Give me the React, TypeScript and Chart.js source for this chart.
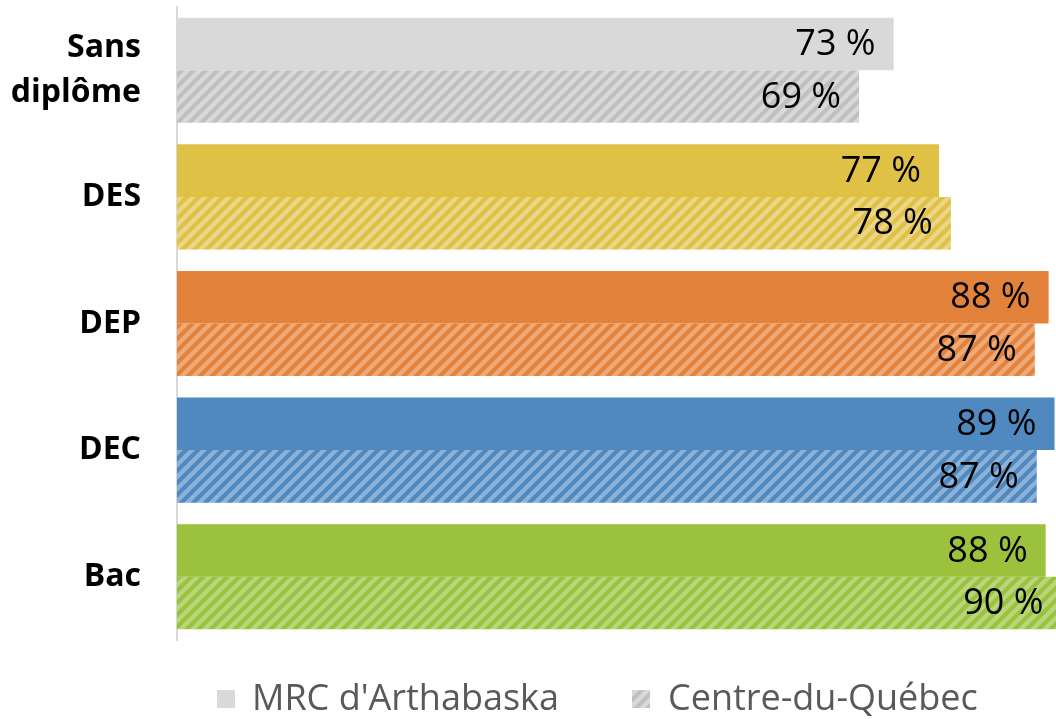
import { useEffect, useRef } from "react";
import { Chart, registerables } from "chart.js";

Chart.register(...registerables);

const categories: (string | string[])[] = [["Sans", "diplôme"], "DES", "DEP", "DEC", "Bac"];
const seriesNames = ["MRC d'Arthabaska", "Centre-du-Québec"];
const mrcValues = [72.6, 77.2, 88.3, 88.9, 88.0];
const cdqValues = [69.1, 78.4, 86.9, 87.1, 89.6];
const solidColors = ["#d9d9d9", "#dfc146", "#e3823b", "#4f89c0", "#9bc13d"];
const hatchBackColors = ["#d9d9d9", "#ebd586", "#eeaa78", "#8cb2d8", "#b8d67c"];
const hatchStripeColors = ["#c0c0c0", "#dfc146", "#e3823b", "#4f89c0", "#9bc13d"];
const xMin = 0;
const xMax = 89.05;

const FONT = "'Open Sans', 'DejaVu Sans', sans-serif";

function makeHatch(back: string, stripe: string): CanvasPattern {
  const size = 12;
  const c = document.createElement("canvas");
  c.width = size;
  c.height = size;
  const g = c.getContext("2d")!;
  g.fillStyle = back;
  g.fillRect(0, 0, size, size);
  g.strokeStyle = stripe;
  g.lineWidth = 4.2;
  g.beginPath();
  for (const o of [-size, 0, size]) {
    g.moveTo(o - 2, size + 2);
    g.lineTo(o + size + 2, -2);
  }
  g.stroke();
  return g.createPattern(c, "repeat")!;
}

export default function App() {
  const ref = useRef<HTMLCanvasElement | null>(null);

  useEffect(() => {
    if (!ref.current) return;
    const patterns = hatchBackColors.map((b, i) => makeHatch(b, hatchStripeColors[i]));
    const legendPattern = patterns[0];

    const valueLabels = {
      id: "valueLabels",
      afterDatasetsDraw(chart: any) {
        const ctx = chart.ctx as CanvasRenderingContext2D;
        ctx.save();
        ctx.font = `36px ${FONT}`;
        ctx.fillStyle = "#000000";
        ctx.textAlign = "right";
        ctx.textBaseline = "middle";
        chart.data.datasets.forEach((ds: any, di: number) => {
          const meta = chart.getDatasetMeta(di);
          meta.data.forEach((bar: any, i: number) => {
            const v = ds.data[i] as number;
            ctx.fillText(`${Math.round(v)} %`, bar.x - 18, bar.y + 1);
          });
        });
        ctx.restore();
      },
    };

    const customLegend = {
      id: "customLegend",
      afterDraw(chart: any) {
        const ctx = chart.ctx as CanvasRenderingContext2D;
        ctx.save();
        const boxY = 690;
        const box = 18;
        ctx.fillStyle = solidColors[0];
        ctx.fillRect(217, boxY, box, box);
        ctx.fillStyle = legendPattern;
        ctx.fillRect(632, boxY, box, box);
        ctx.font = `36px ${FONT}`;
        ctx.fillStyle = "#595959";
        ctx.textAlign = "left";
        ctx.textBaseline = "middle";
        ctx.fillText(seriesNames[0], 252, boxY + box / 2 + 1);
        ctx.fillText(seriesNames[1], 668, boxY + box / 2 + 1);
        ctx.restore();
      },
    };

    const chart = new Chart(ref.current, {
      type: "bar",
      data: {
        labels: categories,
        datasets: [
          {
            label: seriesNames[0],
            data: mrcValues,
            backgroundColor: solidColors,
            categoryPercentage: 0.83,
            barPercentage: 1,
          },
          {
            label: seriesNames[1],
            data: cdqValues,
            backgroundColor: patterns,
            categoryPercentage: 0.83,
            barPercentage: 1,
          },
        ],
      },
      options: {
        indexAxis: "y",
        animation: false,
        responsive: true,
        maintainAspectRatio: false,
        layout: { padding: { top: 7, bottom: 79, left: 0, right: 0 } },
        scales: {
          x: { display: false, min: xMin, max: xMax },
          y: {
            grid: { display: false, drawTicks: false },
            border: { display: true, color: "#d9d9d9", width: 2 },
            ticks: {
              color: "#000000",
              padding: 36,
              font: { family: FONT, size: 32, weight: "bold", lineHeight: 1.4 },
            },
            afterFit: (s: any) => {
              s.width = 177;
              s.paddingTop = 0;
              s.paddingBottom = 0;
            },
          },
        },
        plugins: {
          legend: { display: false },
          tooltip: { enabled: false },
        },
      },
      plugins: [valueLabels, customLegend],
    } as any);

    return () => chart.destroy();
  }, []);

  return (
    <div style={{ position: "absolute", left: 0, top: 0, width: 1056, height: 719, background: "#ffffff" }}>
      <canvas ref={ref} />
    </div>
  );
}
